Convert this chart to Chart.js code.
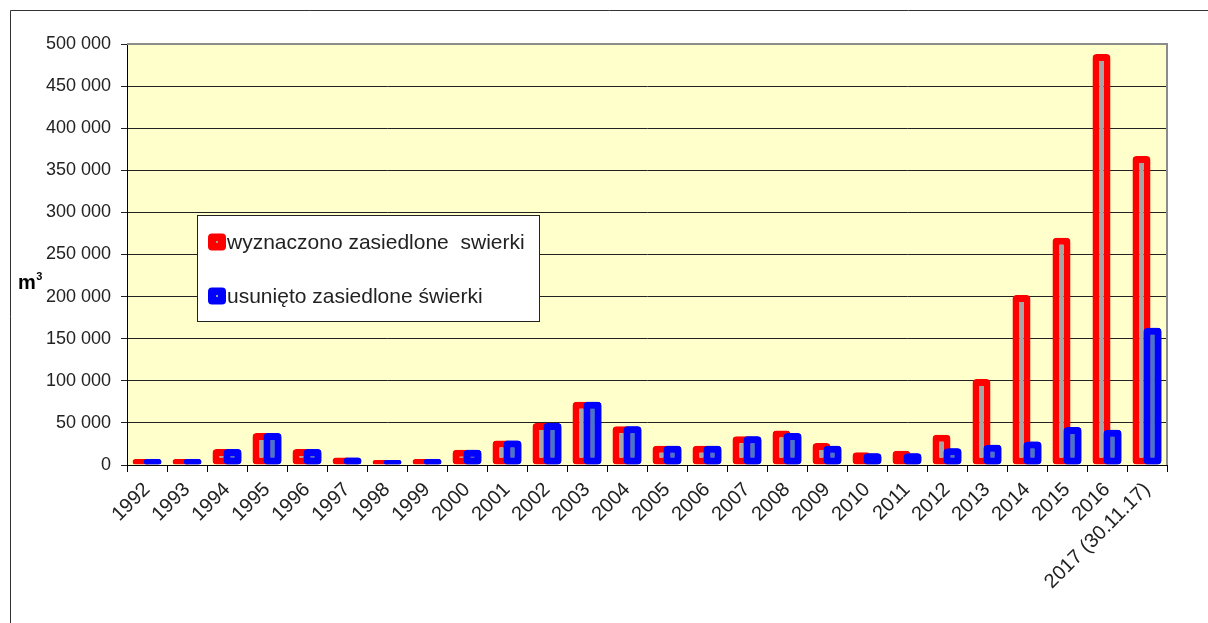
<!DOCTYPE html>
<html>
<head>
<meta charset="utf-8">
<script src="https://cdn.jsdelivr.net/npm/chart.js@4/dist/chart.umd.min.js"></script>
<style>
  html, body { margin: 0; padding: 0; background: #ffffff; }
  #wrap { width: 1208px; height: 623px; position: relative; }
</style>
</head>
<body>
<div id="wrap"><canvas id="c" width="1208" height="623"></canvas></div>
<script>
const categories = ['1992','1993','1994','1995','1996','1997','1998','1999','2000','2001','2002','2003','2004','2005','2006','2007','2008','2009','2010','2011','2012','2013','2014','2015','2016','2017 (30.11.17)'];
const wyznaczono = [7000,7000,19000,38000,19000,9000,6000,7000,18000,29000,50000,75000,46000,23000,23000,34000,41000,26000,15000,17000,36000,102000,202000,270000,488000,367000];
const usunieto   = [7000,7000,19000,38000,19000,9000,6000,7000,18000,29000,50000,75000,46000,23000,23000,34000,38000,23000,14000,14000,20000,24000,28000,45000,42000,163000];
const seriesLabels = ['wyznaczono zasiedlone  swierki', 'usunięto zasiedlone świerki'];
const yAxisTitle = 'm';
const yAxisTitleSup = '3';

const FONT = '"Liberation Sans", Arial, sans-serif';

function fmt(v) {
  return String(v).replace(/\B(?=(\d{3})+(?!\d))/g, ' ');
}

function roundRect(ctx, x, y, w, h, r) {
  ctx.beginPath();
  ctx.moveTo(x + r, y);
  ctx.lineTo(x + w - r, y);
  ctx.quadraticCurveTo(x + w, y, x + w, y + r);
  ctx.lineTo(x + w, y + h - r);
  ctx.quadraticCurveTo(x + w, y + h, x + w - r, y + h);
  ctx.lineTo(x + r, y + h);
  ctx.quadraticCurveTo(x, y + h, x, y + h - r);
  ctx.lineTo(x, y + r);
  ctx.quadraticCurveTo(x, y, x + r, y);
  ctx.closePath();
}

const decor = {
  id: 'decor',
  beforeDraw(chart) {
    const ctx = chart.ctx;
    const a = chart.chartArea;
    ctx.save();
    ctx.fillStyle = '#ffffff';
    ctx.fillRect(0, 0, chart.width, chart.height);
    ctx.strokeStyle = '#333333';
    ctx.lineWidth = 1;
    ctx.beginPath();
    ctx.moveTo(10.5, chart.height);
    ctx.lineTo(10.5, 10.5);
    ctx.lineTo(chart.width, 10.5);
    ctx.stroke();
    ctx.fillStyle = '#FFFFCC';
    ctx.fillRect(a.left, a.top, a.right - a.left, a.bottom - a.top);
    ctx.restore();
  },
  afterDatasetsDraw(chart) {
    chart.getDatasetMeta(1).controller.draw();
  },
  afterDraw(chart) {
    const ctx = chart.ctx;
    const a = chart.chartArea;
    ctx.save();
    ctx.strokeStyle = '#8c8c8c';
    ctx.lineWidth = 2;
    ctx.beginPath();
    ctx.moveTo(a.left, a.top);
    ctx.lineTo(a.right, a.top);
    ctx.lineTo(a.right, a.bottom);
    ctx.stroke();

    ctx.fillStyle = '#000000';
    ctx.textBaseline = 'alphabetic';
    ctx.textAlign = 'left';
    ctx.font = 'bold 20px ' + FONT;
    ctx.fillText(yAxisTitle, 18, 289);
    const mw = ctx.measureText(yAxisTitle).width;
    ctx.font = 'bold 11px ' + FONT;
    ctx.fillText(yAxisTitleSup, 18 + mw + 0.5, 280);

    const lx = 197, ly = 215, lw = 342, lh = 106;
    ctx.fillStyle = '#ffffff';
    ctx.fillRect(lx, ly, lw, lh);
    ctx.strokeStyle = '#222222';
    ctx.lineWidth = 1;
    ctx.strokeRect(lx + 0.5, ly + 0.5, lw, lh);
    const rows = [242, 296];
    chart.data.datasets.forEach((ds, i) => {
      const cy = rows[i];
      ctx.fillStyle = ds.borderColor;
      roundRect(ctx, 208, cy - 8.5, 18, 17, 4);
      ctx.fill();
      ctx.fillStyle = '#a0a0a0';
      ctx.fillRect(216, cy - 1, 2, 2);
      ctx.fillStyle = '#222222';
      ctx.font = '21px ' + FONT;
      ctx.textBaseline = 'middle';
      ctx.fillText(ds.label, 227, cy + 1);
    });
    ctx.restore();
  }
};

const ctx = document.getElementById('c').getContext('2d');
new Chart(ctx, {
  type: 'bar',
  data: {
    labels: categories,
    datasets: [
      {
        label: seriesLabels[0],
        data: wyznaczono,
        backgroundColor: '#a6a6a6',
        borderColor: '#FF0000',
        borderWidth: 7,
        borderRadius: 4,
        borderSkipped: false,
        categoryPercentage: 0.55,
        barPercentage: 1.64
      },
      {
        label: seriesLabels[1],
        data: usunieto,
        backgroundColor: '#4c74c9',
        borderColor: '#0000FF',
        borderWidth: 7,
        borderRadius: 4,
        borderSkipped: false,
        categoryPercentage: 0.55,
        barPercentage: 1.64
      }
    ]
  },
  options: {
    responsive: false,
    animation: false,
    events: [],
    layout: { padding: { left: 0, top: 44, right: 41, bottom: 0 } },
    plugins: {
      legend: { display: false },
      tooltip: { enabled: false },
      title: { display: false }
    },
    scales: {
      x: {
        type: 'category',
        offset: true,
        grid: {
          display: true,
          drawOnChartArea: false,
          drawTicks: true,
          tickLength: 7,
          color: '#000000',
          offset: true
        },
        border: { display: true, color: '#000000', width: 1 },
        ticks: {
          autoSkip: false,
          minRotation: 45,
          maxRotation: 45,
          padding: 6,
          color: '#222222',
          font: { family: FONT, size: 20 }
        },
        afterFit(scale) { scale.height = 158; }
      },
      y: {
        min: 0,
        max: 500000,
        grid: {
          color: '#222222',
          lineWidth: 1,
          drawTicks: true,
          tickLength: 6
        },
        border: { display: true, color: '#000000', width: 1 },
        ticks: {
          stepSize: 50000,
          padding: 10,
          color: '#222222',
          font: { family: FONT, size: 18 },
          callback: (v) => fmt(v)
        },
        afterFit(scale) { scale.width = 127; }
      }
    }
  },
  plugins: [decor]
});
</script>
</body>
</html>
